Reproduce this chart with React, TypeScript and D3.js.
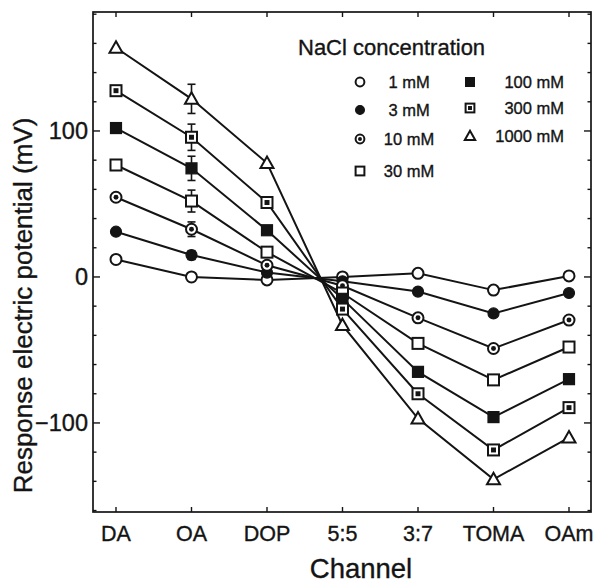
import React from "react";
import * as d3 from "d3";

const channels = ["DA", "OA", "DOP", "5:5", "3:7", "TOMA", "OAm"];
const concentrations = ["1 mM", "3 mM", "10 mM", "30 mM", "100 mM", "300 mM", "1000 mM"];
const markerTypes = ["openCircle", "filledCircle", "dotCircle", "openSquare", "filledSquare", "dotSquare", "triangle"];

const v1 = [12, 0, -2, 0, 2.5, -9, 0.7];
const v3 = [31, 15, 3, -3, -10, -25, -11];
const v10 = [54.6, 32.7, 8, -6, -28, -49, -29.5];
const v30 = [76.7, 52, 17, -11, -45.5, -70.5, -48];
const v100 = [102, 74.4, 32, -15, -65, -96, -70];
const v300 = [127.6, 95.7, 51, -22, -80, -118.5, -89.5];
const v1000 = [157, 122, 78, -33, -97, -138.6, -110];
const seriesValues = [v1, v3, v10, v30, v100, v300, v1000];

// error bars at OA channel only
const errChannel = "OA";
const errOA = [2.5, 3, 5, 7.5, 8.3, 9, 10];

const majorTicks = [-100, 0, 100];
const minorTicks = d3.range(-160, 181, 20);

const W = 598, H = 588;
const L = 93, R = 591, T = 12, B = 512;
const FONT = "'Liberation Sans', Arial, Helvetica, sans-serif";
const INK = "#141414";

function Marker({ type, x, y, s = 1 }: { type: string; x: number; y: number; s?: number }) {
  const r = 5.5 * s;
  const h = 5.5 * s;
  const sw = 2;
  switch (type) {
    case "openCircle":
      return <circle cx={x} cy={y} r={r} fill="#fff" stroke={INK} strokeWidth={sw} />;
    case "filledCircle":
      return <circle cx={x} cy={y} r={r} fill={INK} stroke={INK} strokeWidth={1.2} />;
    case "dotCircle":
      return (
        <g>
          <circle cx={x} cy={y} r={r} fill="#fff" stroke={INK} strokeWidth={sw} />
          <circle cx={x} cy={y} r={r * 0.45} fill={INK} />
        </g>
      );
    case "openSquare":
      return <rect x={x - h} y={y - h} width={2 * h} height={2 * h} fill="#fff" stroke={INK} strokeWidth={sw} />;
    case "filledSquare":
      return <rect x={x - h} y={y - h} width={2 * h} height={2 * h} fill={INK} stroke={INK} strokeWidth={1.2} />;
    case "dotSquare":
      return (
        <g>
          <rect x={x - h} y={y - h} width={2 * h} height={2 * h} fill="#fff" stroke={INK} strokeWidth={sw} />
          <rect x={x - h * 0.45} y={y - h * 0.45} width={h * 0.9} height={h * 0.9} fill={INK} />
        </g>
      );
    case "triangle": {
      const a = 6.5 * s;
      const p = `M${x},${y - a} L${x + a},${y + a * 0.75} L${x - a},${y + a * 0.75} Z`;
      return <path d={p} fill="#fff" stroke={INK} strokeWidth={sw} strokeLinejoin="miter" />;
    }
  }
  return null;
}

export default function App() {
  const x = d3.scalePoint<string>().domain(channels).range([116, 569]);
  const y = d3.scaleLinear().domain([-161, 181.5]).range([B, T]);
  const line = d3
    .line<number>()
    .x((_, i) => x(channels[i]) as number)
    .y((d) => y(d));

  const legendCol1 = concentrations.slice(0, 4);
  const legendCol2 = concentrations.slice(4);
  const col1Y = [82, 110, 139, 171];
  const col2Y = [82, 108, 136];
  const textStroke = { stroke: INK, strokeWidth: 0.35 };

  return (
    <div style={{ position: "absolute", left: 0, top: 0 }}>
      <svg width={W} height={H} style={{ display: "block", background: "#fff" }} fontFamily={FONT}>
        {/* frame */}
        <rect x={L} y={T} width={R - L} height={B - T} fill="none" stroke={INK} strokeWidth={1.7} />
        {/* y ticks */}
        {minorTicks.map((t) => {
          const major = majorTicks.includes(t);
          const len = major ? 7 : 3.5;
          return (
            <g key={"yt" + t}>
              <line x1={L} x2={L + len} y1={y(t)} y2={y(t)} stroke={INK} strokeWidth={1.4} />
              <line x1={R} x2={R - len} y1={y(t)} y2={y(t)} stroke={INK} strokeWidth={1.4} />
            </g>
          );
        })}
        {majorTicks.map((t) => (
          <text key={"yl" + t} x={L - 5} y={y(t)} dy="0.36em" textAnchor="end" fontSize={23.5} fill={INK} {...textStroke}>
            {t < 0 ? "\u2212" + Math.abs(t) : t}
          </text>
        ))}
        {/* x ticks */}
        {channels.map((c) => (
          <g key={"xt" + c}>
            <line x1={x(c)} x2={x(c)} y1={B} y2={B - 5} stroke={INK} strokeWidth={1.4} />
            <line x1={x(c)} x2={x(c)} y1={T} y2={T + 5} stroke={INK} strokeWidth={1.4} />
            <text x={x(c)} y={541} textAnchor="middle" fontSize={21.5} fill={INK} {...textStroke}>
              {c}
            </text>
          </g>
        ))}
        {/* axis titles */}
        <text x={361} y={578} textAnchor="middle" fontSize={27.5} fill={INK} {...textStroke}>
          Channel
        </text>
        <text
          transform={`translate(32, ${(118 + 493) / 2}) rotate(-90)`}
          textAnchor="middle"
          fontSize={26}
          fill={INK}
          {...textStroke}
        >
          Response electric potential (mV)
        </text>

        {/* lines */}
        {seriesValues.map((vals, si) => (
          <path key={"l" + si} d={line(vals) || ""} fill="none" stroke={INK} strokeWidth={2} />
        ))}
        {/* error bars */}
        {seriesValues.map((vals, si) => {
          const i = channels.indexOf(errChannel);
          const cx = x(errChannel) as number;
          const e = errOA[si];
          const y1 = y(vals[i] + e);
          const y2 = y(vals[i] - e);
          return (
            <g key={"e" + si} stroke={INK} strokeWidth={1.6}>
              <line x1={cx} x2={cx} y1={y1} y2={y2} />
              <line x1={cx - 4} x2={cx + 4} y1={y1} y2={y1} />
              <line x1={cx - 4} x2={cx + 4} y1={y2} y2={y2} />
            </g>
          );
        })}
        {/* markers */}
        {seriesValues.map((vals, si) =>
          vals.map((v, i) => (
            <Marker key={"m" + si + "-" + i} type={markerTypes[si]} x={x(channels[i]) as number} y={y(v)} />
          ))
        )}

        {/* legend */}
        <text x={298} y={55} fontSize={22} fill={INK} {...textStroke}>
          NaCl concentration
        </text>
        {legendCol1.map((c, i) => (
          <g key={"lg1" + c}>
            <Marker type={markerTypes[i]} x={360} y={col1Y[i]} s={0.8} />
            <text x={409} y={col1Y[i]} dy="0.36em" textAnchor="middle" fontSize={16.5} fill={INK} {...textStroke}>
              {c}
            </text>
          </g>
        ))}
        {legendCol2.map((c, i) => (
          <g key={"lg2" + c}>
            <Marker type={markerTypes[i + 4]} x={470} y={col2Y[i]} s={0.8} />
            <text x={564} y={col2Y[i]} dy="0.36em" textAnchor="end" fontSize={16.5} fill={INK} {...textStroke}>
              {c}
            </text>
          </g>
        ))}
      </svg>
    </div>
  );
}
